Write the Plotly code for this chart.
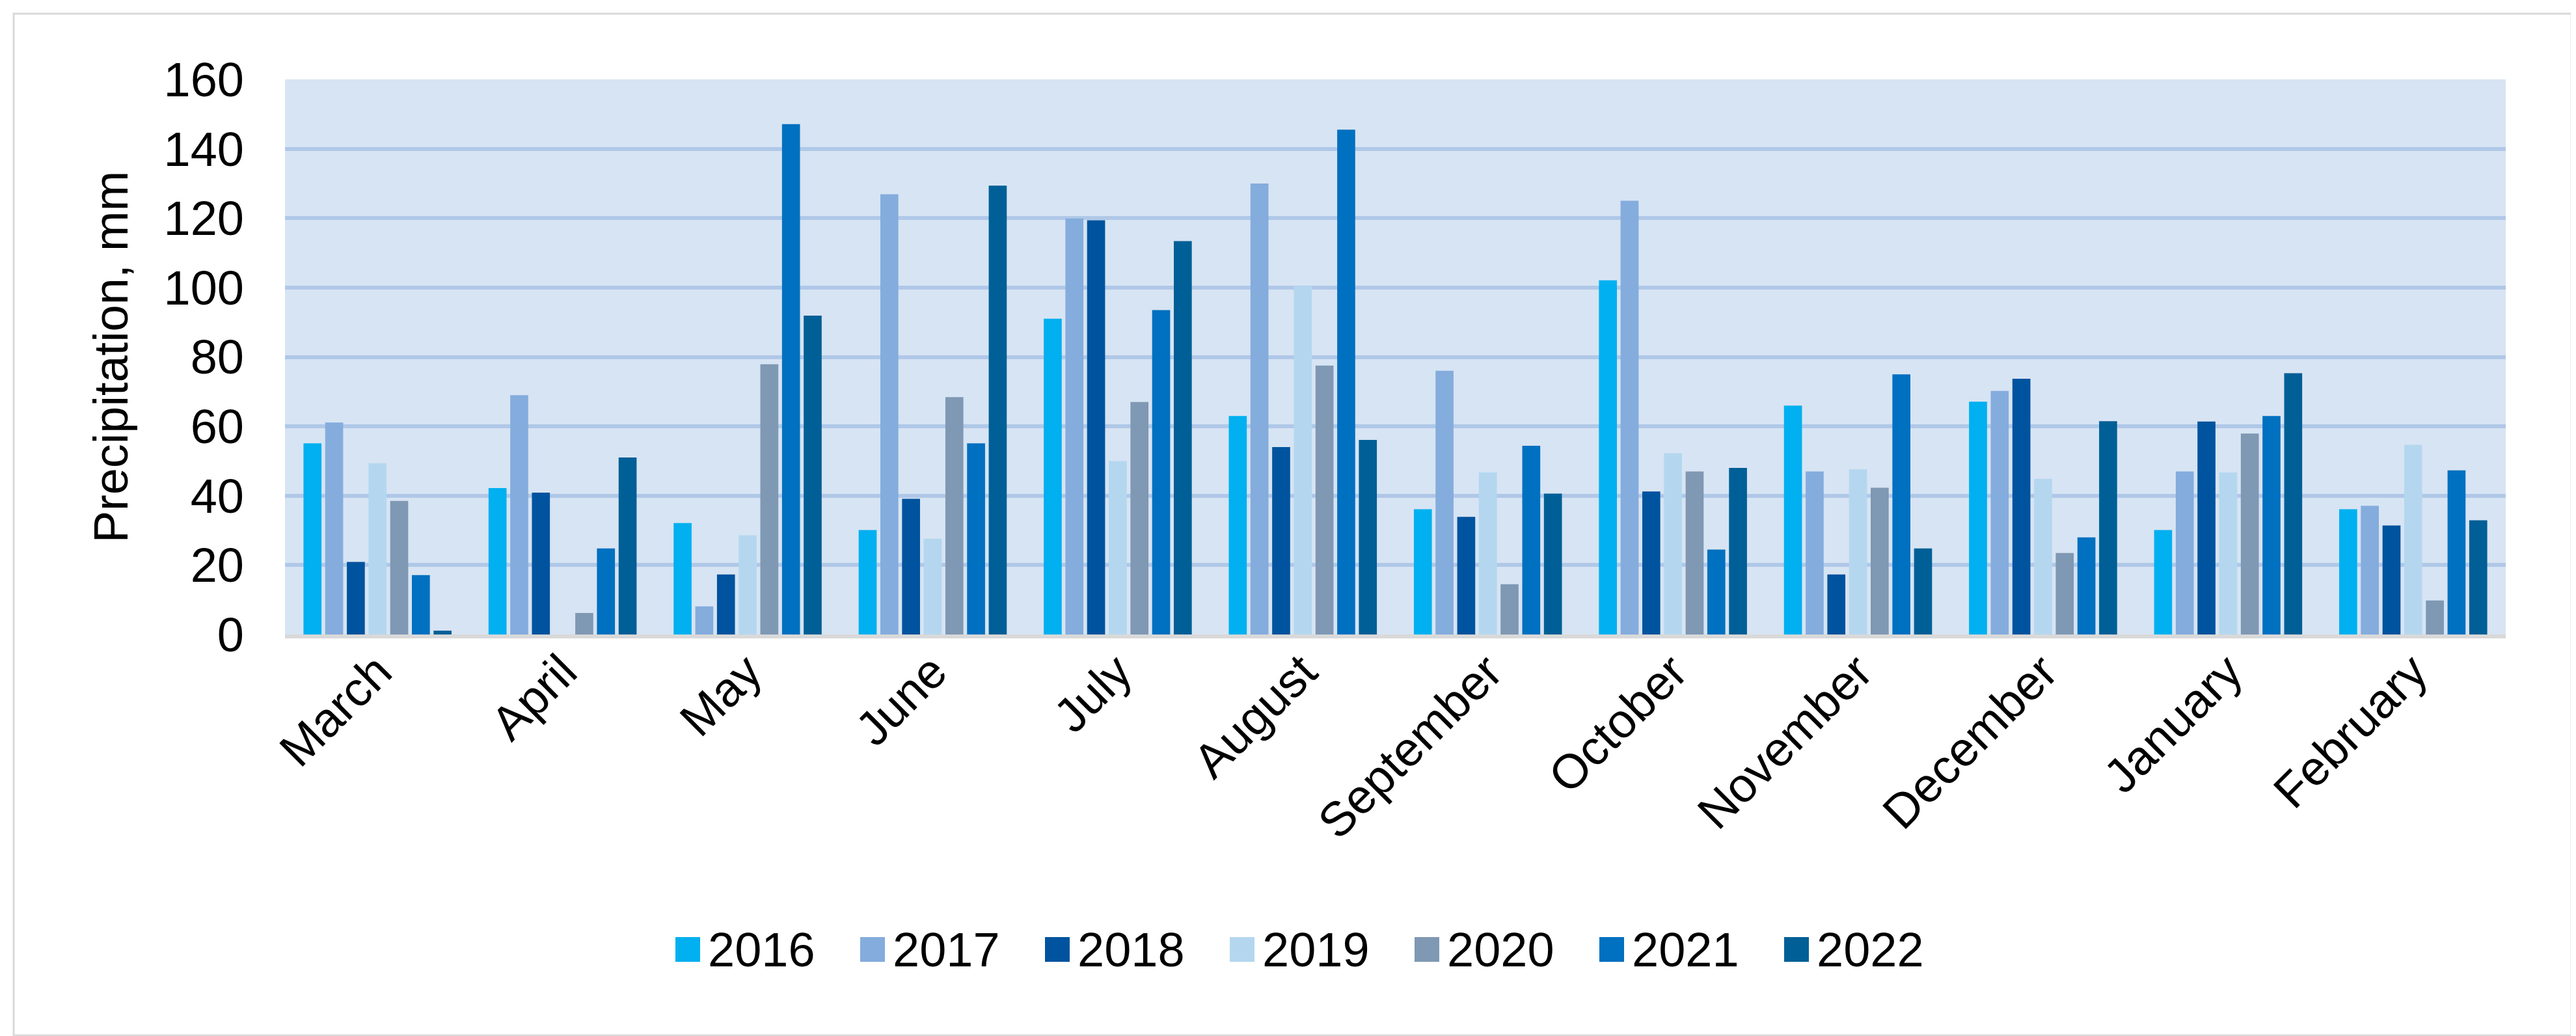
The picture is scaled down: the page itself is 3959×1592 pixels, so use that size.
import plotly.graph_objects as go

months = ["March", "April", "May", "June", "July", "August", "September",
          "October", "November", "December", "January", "February"]
years = ["2016", "2017", "2018", "2019", "2020", "2021", "2022"]

p2016 = [55.1, 42.2, 32.1, 30.1, 91.0, 63.0, 36.1, 102.1, 66.0, 67.1, 30.1, 36.1]
p2017 = [61.1, 69.0, 8.1, 126.9, 119.9, 130.0, 76.0, 125.0, 47.0, 70.2, 47.0, 37.1]
p2018 = [20.9, 40.9, 17.3, 39.1, 119.4, 54.0, 33.9, 41.2, 17.3, 73.7, 61.4, 31.4]
p2019 = [49.4, 0.0, 28.6, 27.6, 50.0, 100.4, 46.7, 52.3, 47.6, 44.9, 46.7, 54.7]
p2020 = [38.5, 6.2, 77.9, 68.4, 67.0, 77.5, 14.5, 47.0, 42.3, 23.5, 57.9, 9.8]
p2021 = [17.1, 24.8, 147.1, 55.1, 93.5, 145.5, 54.4, 24.5, 75.0, 28.0, 63.0, 47.3]
p2022 = [1.1, 51.0, 91.9, 129.4, 113.4, 56.1, 40.6, 48.0, 24.8, 61.5, 75.3, 32.9]

series = [p2016, p2017, p2018, p2019, p2020, p2021, p2022]
colors = ["#00B0F0", "#84ACDD", "#00539E", "#B4D7EF", "#7F98B3", "#0070C0", "#005F96"]

W, H = 3959, 1592
ML, MR, MT, MB = 430, 116, 114, 625
FONT = "Liberation Sans, Arial, sans-serif"
FS = 74

pw = W - ML - MR
ph = H - MT - MB


def px_x(px):
    return (px - ML) / pw


def px_y(py):
    return ((H - MB) - py) / ph


fig = go.Figure()
for y, vals, c in zip(years, series, colors):
    fig.add_trace(go.Bar(name=y, x=months, y=vals, showlegend=False,
                         marker=dict(color=c, line=dict(width=0))))

# custom legend (large square swatches like the reference)
shapes = []
annotations = []
LEG_X0, LEG_PITCH, LEG_Y = 1030, 284, 1451
SW = 38
for i, (y, c) in enumerate(zip(years, colors)):
    x0 = LEG_X0 + LEG_PITCH * i
    shapes.append(dict(type="rect", xref="paper", yref="paper",
                       x0=px_x(x0), x1=px_x(x0 + SW),
                       y0=px_y(LEG_Y + SW / 2), y1=px_y(LEG_Y - SW / 2),
                       line=dict(width=0), fillcolor=c))
    annotations.append(dict(text=y, xref="paper", yref="paper",
                            x=px_x(x0 + SW + 10), y=px_y(LEG_Y),
                            xanchor="left", yanchor="middle", showarrow=False,
                            font=dict(family=FONT, size=FS, color="black")))

shapes.append(dict(type="rect", xref="paper", yref="paper",
                   x0=px_x(13), x1=px_x(3944), y0=px_y(1583), y1=px_y(13),
                   line=dict(color="#D9D9D9", width=3), fillcolor="rgba(0,0,0,0)",
                   layer="below"))

fig.update_layout(
    width=W, height=H,
    margin=dict(l=ML, r=MR, t=MT, b=MB),
    paper_bgcolor="white",
    plot_bgcolor="#D7E4F3",
    barmode="group",
    bargap=0.18,
    bargroupgap=0.17,
    font=dict(family=FONT, size=FS, color="black"),
    showlegend=False,
    xaxis=dict(
        tickangle=-45, showgrid=False, showline=True, linecolor="#D9D9D9",
        linewidth=6, ticks="", tickfont=dict(family=FONT, size=FS),
        ticklabelstandoff=-22,
    ),
    yaxis=dict(
        range=[0, 160], dtick=20, showgrid=True, gridcolor="#B0C8E8", gridwidth=6,
        zeroline=False, showline=False, ticks="", ticklabelstandoff=62,
        tickfont=dict(family=FONT, size=FS),
        title=dict(text="Precipitation, mm", font=dict(family=FONT, size=FS), standoff=30),
    ),
    shapes=shapes,
    annotations=annotations,
)

fig.write_html("out.html")
